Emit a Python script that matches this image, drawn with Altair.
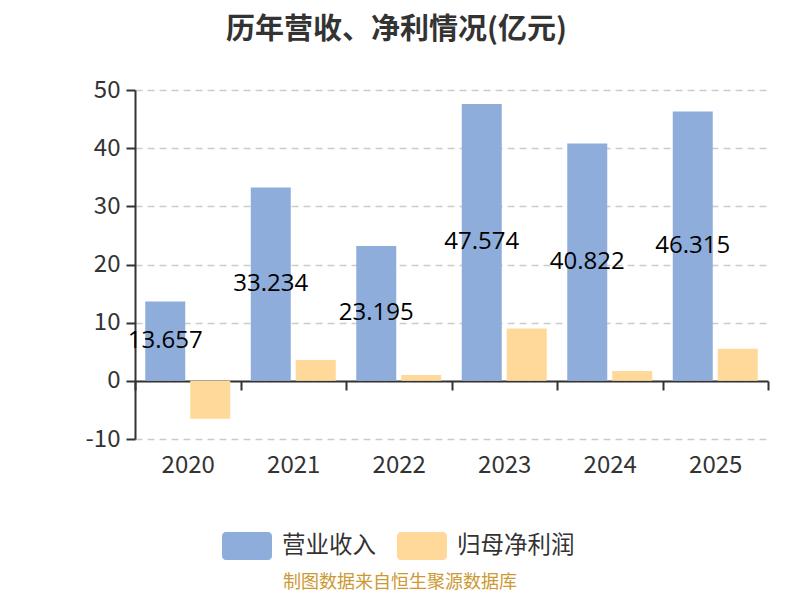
import altair as alt
import pandas as pd

years = ["2020", "2021", "2022", "2023", "2024", "2025"]
revenue = [13.657, 33.234, 23.195, 47.574, 40.822, 46.315]
profit = [-6.5, 3.6, 1.0, 9.0, 1.7, 5.5]
series = ["营业收入", "归母净利润"]
colors = ["#8EADDB", "#FFD999"]
title_text = "历年营收、净利情况(亿元)"
footer_text = "制图数据来自恒生聚源数据库"

rows = []
for y, r, p in zip(years, revenue, profit):
    rows.append({"year": y, "series": series[0], "value": r})
    rows.append({"year": y, "series": series[1], "value": p})
df = pd.DataFrame(rows)

FONT = "Noto Sans CJK SC"

x_enc = alt.X(
    "year:N",
    sort=years,
    scale=alt.Scale(paddingInner=0, paddingOuter=0),
    axis=alt.Axis(
        title=None,
        labelAngle=0,
        labelFontSize=24,
        labelColor="#333333",
        labelFont=FONT,
        tickBand="extent",
        tickSize=9,
        tickColor="#333333",
        tickWidth=2,
        domainColor="#333333",
        domainWidth=2,
        offset=-58,
        labelPadding=63,
        grid=False,
    ),
)
xoff_enc = alt.XOffset(
    "series:N",
    sort=series,
    scale=alt.Scale(paddingInner=0.111, paddingOuter=0.228),
)
y_enc = alt.Y(
    "value:Q",
    scale=alt.Scale(domain=[-10, 50], nice=False),
    axis=alt.Axis(
        title=None,
        values=[-10, 0, 10, 20, 30, 40, 50],
        labelExpr="'' + datum.value",
        labelFontSize=24,
        labelColor="#333333",
        labelFont=FONT,
        labelPadding=6,
        tickSize=9,
        tickColor="#333333",
        tickWidth=2,
        domainColor="#333333",
        domainWidth=2,
        gridColor="#cccccc",
        gridDash=[7, 5],
        gridWidth=1.5,
    ),
)

legend_path = (
    "M-0.84,-0.56 L0.84,-0.56 A0.16,0.16 0 0 1 1,-0.4 L1,0.4 "
    "A0.16,0.16 0 0 1 0.84,0.56 L-0.84,0.56 A0.16,0.16 0 0 1 -1,0.4 "
    "L-1,-0.4 A0.16,0.16 0 0 1 -0.84,-0.56 Z"
)

bars = alt.Chart(df).mark_bar().encode(
    x=x_enc,
    xOffset=xoff_enc,
    y=y_enc,
    color=alt.Color(
        "series:N",
        sort=series,
        scale=alt.Scale(domain=series, range=colors),
        legend=alt.Legend(
            title=None,
            orient="none",
            legendX=87,
            legendY=431,
            direction="horizontal",
            symbolType=legend_path,
            symbolSize=2500,
            symbolStrokeWidth=0,
            symbolOpacity=1,
            labelFontSize=23.5,
            labelFont=FONT,
            labelColor="#333333",
            labelOffset=10,
            columnPadding=21,
            padding=0,
        ),
    ),
)

labels = (
    alt.Chart(df)
    .transform_filter(alt.datum.series == series[0])
    .transform_calculate(mid="datum.value / 2")
    .mark_text(fontSize=24, font="Open Sans", color="#000000", baseline="middle")
    .encode(
        x=alt.X("year:N", sort=years),
        xOffset=alt.XOffset("series:N", sort=series),
        y=alt.Y("mid:Q"),
        text=alt.Text("value:Q", format=".3f"),
    )
)

footer = (
    alt.Chart(pd.DataFrame({"t": [footer_text]}))
    .mark_text(fontSize=18, font=FONT, color="#CC9933", baseline="middle")
    .encode(text="t:N", x=alt.value(265), y=alt.value(493))
)

chart = (
    alt.layer(bars, labels, footer)
    .properties(
        width=633,
        height=349,
        autosize=alt.AutoSizeParams(type="none"),
        padding={"left": 127, "top": 82, "right": 24, "bottom": 153},
        title=alt.TitleParams(
            title_text,
            fontSize=29,
            font=FONT,
            fontWeight="bold",
            color="#333333",
            anchor="middle",
            dx=-55,
            offset=33,
        ),
    )
    .configure_view(stroke=None)
)

chart.save("out.html", embed_options={"renderer": "svg", "actions": False})
